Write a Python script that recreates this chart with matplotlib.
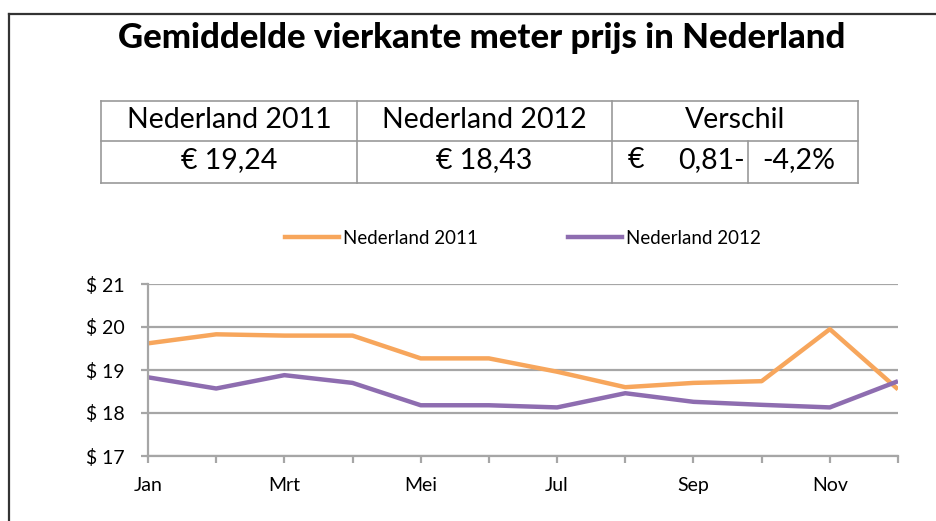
import matplotlib
matplotlib.use("Agg")
import matplotlib.pyplot as plt
from matplotlib.lines import Line2D

plt.rcParams['font.family'] = ['Lato', 'DejaVu Sans']

months = ['Jan', 'Feb', 'Mrt', 'Apr', 'Mei', 'Jun', 'Jul', 'Aug', 'Sep', 'Okt', 'Nov', 'Dec']
tick_labels = ['Jan', '', 'Mrt', '', 'Mei', '', 'Jul', '', 'Sep', '', 'Nov', '']
nl_2011 = [19.62, 19.83, 19.80, 19.80, 19.27, 19.27, 18.96, 18.60, 18.70, 18.74, 19.95, 18.55]
nl_2012 = [18.83, 18.57, 18.88, 18.70, 18.18, 18.18, 18.13, 18.46, 18.26, 18.19, 18.13, 18.74]
series_names = ['Nederland 2011', 'Nederland 2012']
y_ticks = [17, 18, 19, 20, 21]

title = 'Gemiddelde vierkante meter prijs in Nederland'
table_header = ['Nederland 2011', 'Nederland 2012', 'Verschil']
table_values = ['€ 19,24', '€ 18,43']
diff_currency = '€'
diff_value = '0,81-'
diff_pct = '-4,2%'

W, H = 937, 521
fig = plt.figure(figsize=(W / 100, H / 100), dpi=100)
fig.patch.set_facecolor('white')

# overlay in pixel coords
ov = fig.add_axes([0, 0, 1, 1])
ov.set_xlim(0, W)
ov.set_ylim(H, 0)
ov.axis('off')

# frame
ov.plot([9, 9], [14, H + 5], color='#333333', lw=1.6, clip_on=False)
ov.plot([9, W + 5], [14, 14], color='#333333', lw=1.6, clip_on=False)

ov.text(482, 38, title, ha='center', va='center', fontsize=25, fontweight='black')

# table
tc = '#999999'
left, c1, c2, sub, right = 101, 357, 612, 748, 858
top, mid, bot = 101, 141, 183
for y in (top, mid, bot):
    ov.plot([left, right], [y, y], color=tc, lw=1.2)
for x in (left, c1, c2, right):
    ov.plot([x, x], [top, bot], color=tc, lw=1.2)
ov.plot([sub, sub], [mid, bot], color=tc, lw=1.2)

fs_t = 20.5
centers = [(left + c1) / 2, (c1 + c2) / 2, (c2 + right) / 2]
for cx, t in zip(centers, table_header):
    ov.text(cx, 120, t, ha='center', va='center', fontsize=fs_t)
for cx, t in zip(centers[:2], table_values):
    ov.text(cx, 160, t, ha='center', va='center', fontsize=fs_t)
ov.text(628, 160, diff_currency, ha='left', va='center', fontsize=fs_t)
ov.text(745, 160, diff_value, ha='right', va='center', fontsize=fs_t)
ov.text(799, 160, diff_pct, ha='center', va='center', fontsize=fs_t)

# chart
ax = fig.add_axes([148 / W, 1 - 456 / H, 750 / W, 172 / H])
x = list(range(len(months)))
c2011 = '#F7A65C'
c2012 = '#8E6DB0'
ax.plot(x, nl_2011, color=c2011, lw=3.2, solid_capstyle='butt', label=series_names[0])
ax.plot(x, nl_2012, color=c2012, lw=3.2, solid_capstyle='butt', label=series_names[1])
ax.set_xlim(0, len(months) - 1)
ax.set_ylim(17, 21)
ax.set_yticks(y_ticks)
ax.set_yticklabels([f'$ {v}' for v in y_ticks], fontsize=14)
ax.set_xticks(x)
ax.set_xticklabels(tick_labels, fontsize=14)
gc = '#A6A6A6'
ax.grid(axis='y', color=gc, lw=1.6)
ax.set_axisbelow(True)
for s in ('top', 'right'):
    ax.spines[s].set_visible(False)
ax.spines['left'].set_color(gc)
ax.spines['bottom'].set_color(gc)
ax.spines['left'].set_linewidth(1.6)
ax.spines['bottom'].set_linewidth(1.6)
ax.tick_params(axis='y', colors=gc, labelcolor='black', length=5, width=1.6, pad=12)
ax.tick_params(axis='x', colors=gc, labelcolor='black', length=5, width=1.6, pad=10)

leg = fig.legend(handles=[Line2D([], [], color=c2011, lw=3.2), Line2D([], [], color=c2012, lw=3.2)],
                 labels=series_names, loc='center', bbox_to_anchor=(523 / W, 1 - 238 / H),
                 ncol=2, frameon=False, fontsize=13.5, handlelength=2.9, handletextpad=0.2,
                 columnspacing=4.8)

fig.savefig('out.png', dpi=100)
